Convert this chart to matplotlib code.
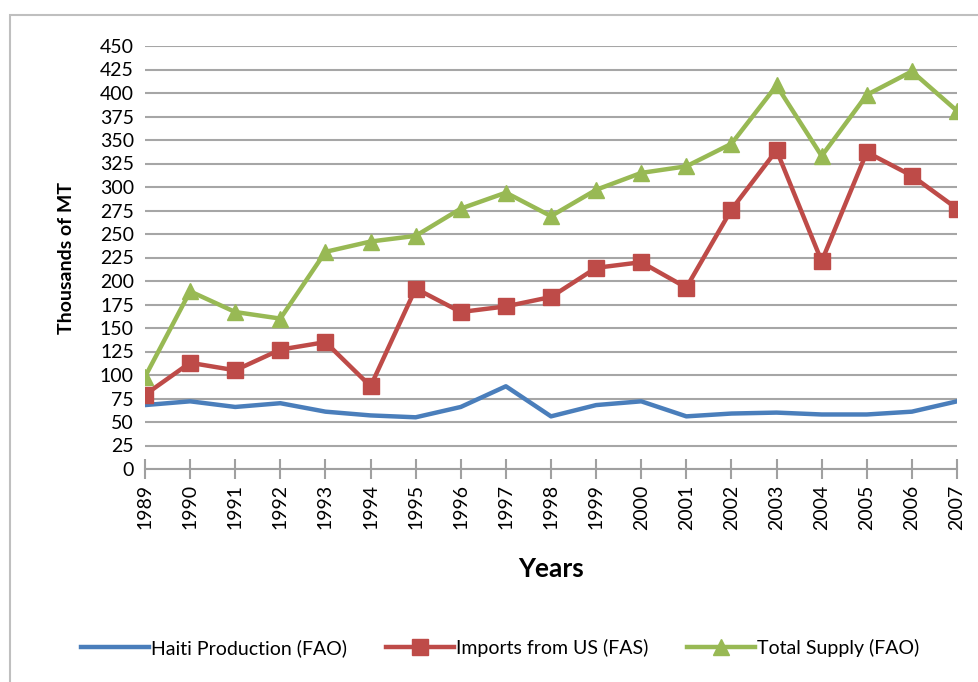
import matplotlib
matplotlib.use('Agg')
import matplotlib.pyplot as plt
from matplotlib.patches import Rectangle

years = list(range(1989, 2008))
haiti_production = [68, 72, 66, 70, 61, 57, 55, 66, 88, 56, 68, 72, 56, 59, 60, 58, 58, 61, 72]
imports_us = [79, 113, 105, 127, 135, 88, 192, 167, 173, 183, 214, 220, 193, 276, 339, 221, 337, 312, 277]
total_supply = [98, 189, 167, 160, 231, 242, 248, 277, 294, 269, 297, 315, 322, 346, 408, 333, 398, 423, 381]

plt.rcParams['font.family'] = ['Lato', 'DejaVu Sans']

fig = plt.figure(figsize=(9.79, 6.82), dpi=100)
ax = fig.add_axes([145 / 979, 1 - 469 / 682, (957 - 145) / 979, (469 - 46) / 682])

ax.plot(years, haiti_production, color='#4a7ebb', linewidth=3.2, label='Haiti Production (FAO)')
ax.plot(years, imports_us, color='#be4b48', linewidth=3.2, marker='s', markersize=11,
        label='Imports from US (FAS)')
ax.plot(years, total_supply, color='#98b954', linewidth=3.2, marker='^', markersize=12,
        label='Total Supply (FAO)')

ax.set_xlim(1989, 2007)
ax.set_ylim(0, 450)
ax.set_yticks(range(0, 451, 25))
ax.set_xticks(years)
ax.set_xticklabels([str(y) for y in years], rotation=90)
ax.tick_params(axis='y', length=0, labelsize=14, pad=8)
ax.tick_params(axis='x', direction='inout', length=14, width=1.5, color='#a0a0a0',
               labelsize=14, pad=4)
ax.yaxis.grid(True, color='#a6a6a6', linewidth=1.5)
ax.set_axisbelow(True)
for s in ['left', 'right', 'top']:
    ax.spines[s].set_visible(False)
ax.spines['bottom'].set_color('#a0a0a0')
ax.spines['bottom'].set_linewidth(1.5)

ax.set_ylabel('Thousands of MT', fontsize=14, fontweight='bold', labelpad=18)
ax.set_xlabel('Years', fontsize=19, fontweight='bold', labelpad=20)

fig.legend(loc='center', bbox_to_anchor=(500 / 979, 1 - 648 / 682), ncol=3, frameon=False,
           fontsize=14, handlelength=3.5, handletextpad=0.1, columnspacing=2.0)

# outer chart border
fig.patches.append(Rectangle((10 / 979, -0.1), 1.2, 1.1 - 15 / 682, transform=fig.transFigure,
                             fill=False, edgecolor='#bfbfbf', linewidth=1.5))

fig.savefig('out.png', dpi=100)
plt.close()
